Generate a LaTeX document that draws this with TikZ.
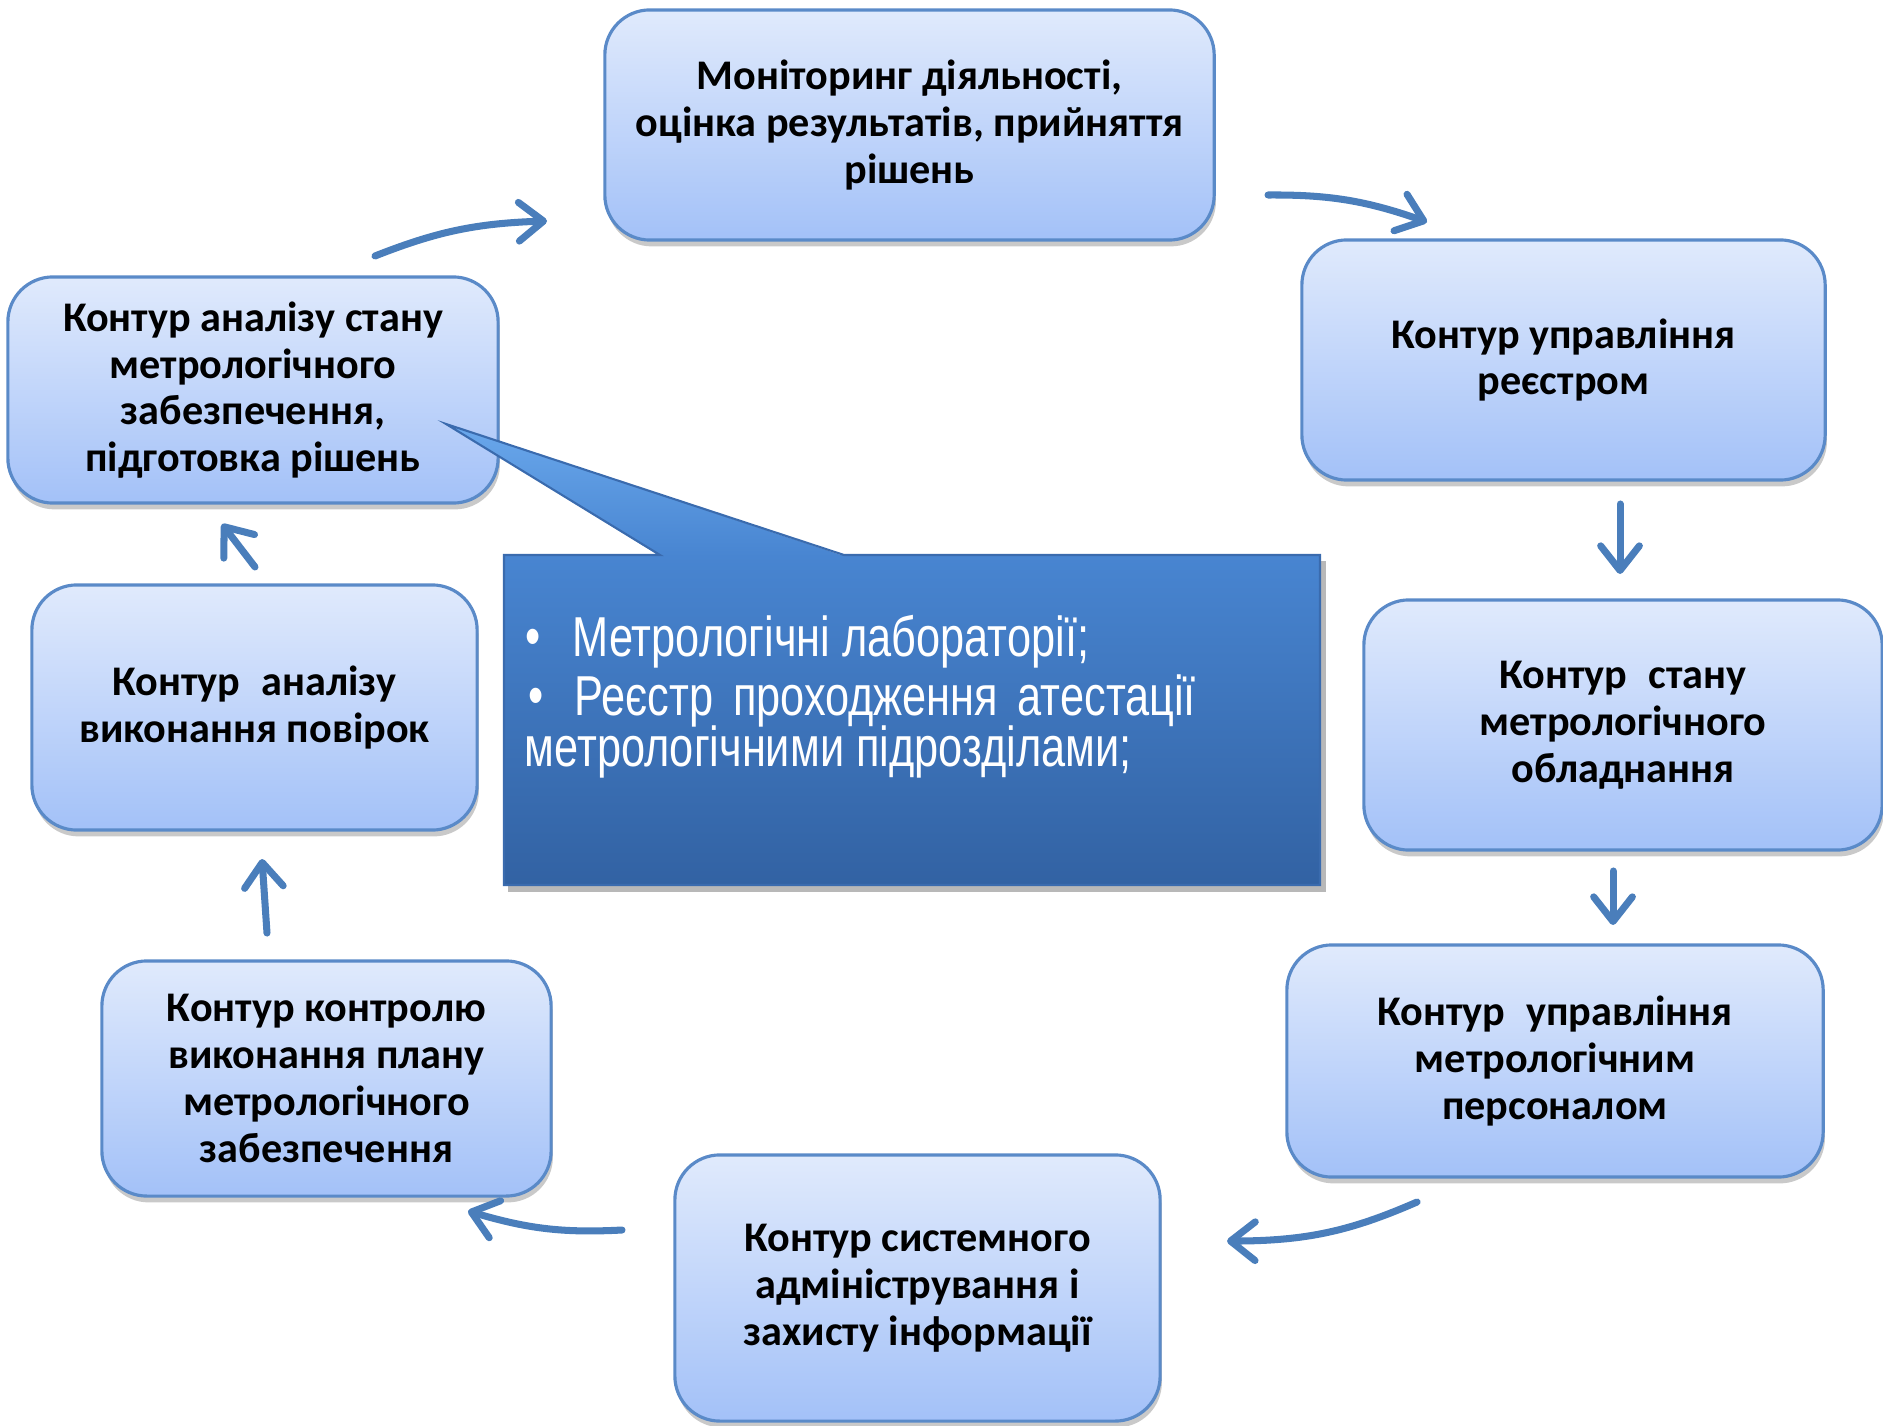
\documentclass[tikz,border=0pt]{standalone}
\usepackage{fontspec}
\setmainfont{Carlito}
\newfontfamily\narrowfont[FakeStretch=0.77]{Liberation Sans}
\usetikzlibrary{arrows.meta,shadows,bending}
\definecolor{boxtop}{HTML}{E0EAFC}
\definecolor{boxbot}{HTML}{A3C1F8}
\definecolor{boxline}{HTML}{5A8AC8}
\definecolor{arrowc}{HTML}{4A7EBB}
\definecolor{calltip}{HTML}{6AA8EC}
\definecolor{calltop}{HTML}{4885D1}
\definecolor{callbot}{HTML}{3262A3}
\definecolor{callline}{HTML}{3A6BAE}
\tikzset{
  cbox/.style={draw=boxline, line width=0.9pt, rounded corners=0.45cm,
    top color=boxtop, bottom color=boxbot, align=center, inner sep=0pt,
    font=\bfseries\fontsize{12}{13.3}\selectfont,
    drop shadow={shadow xshift=0.5pt, shadow yshift=-1.8pt, opacity=0.3, fill=black!70}},
  flow/.style={draw=arrowc, line width=2pt, line cap=round,
    -{Straight Barb[length=7pt,width=11pt,line cap=round,line join=round]}},
  ctext/.style={anchor=west, text=white, inner sep=0pt,
    font=\narrowfont\fontsize{16}{18}\selectfont}
}
\begin{document}
\begin{tikzpicture}[x=0.01cm,y=-0.01cm]
\useasboundingbox (0,0) rectangle (1883,1425);

% boxes
\node[cbox, minimum width=6.09cm, minimum height=2.30cm] (mon) at (909.5,125)
  {Моніторинг діяльності,\\оцінка результатів, прийняття\\рішень};
\node[cbox, minimum width=5.23cm, minimum height=2.40cm] (reestr) at (1563.5,360)
  {Контур управління\\реєстром};
\node[cbox, minimum width=5.18cm, minimum height=2.50cm] (obl) at (1623,725)
  {Контур\enspace стану\\метрологічного\\обладнання};
\node[cbox, minimum width=5.36cm, minimum height=2.32cm] (pers) at (1555,1061)
  {Контур\enspace управління\\метрологічним\\персоналом};
\node[cbox, minimum width=4.85cm, minimum height=2.66cm] (sys) at (917.5,1288)
  {Контур системного\\адміністрування і\\захисту інформації};
\node[cbox, minimum width=4.49cm, minimum height=2.35cm] (plan) at (326.5,1078.5)
  {Контур контролю\\виконання плану\\метрологічного\\забезпечення};
\node[cbox, minimum width=4.45cm, minimum height=2.45cm] (pov) at (254.5,707.5)
  {Контур\enspace аналізу\\виконання повірок};
\node[cbox, minimum width=4.90cm, minimum height=2.26cm] (anal) at (253,390)
  {Контур аналізу стану\\метрологічного\\забезпечення,\\підготовка рішень};

% callout (drawn over the boxes)
\fill[black,opacity=0.28] (508,561) -- (1326,561) -- (1326,892) -- (508,892) -- cycle;
\path[top color=calltop, bottom color=callbot]
  (504,555) rectangle (1320,885);
\path[top color=calltip, bottom color=calltop]
  (660,556) -- (446,424) -- (844,556) -- cycle;
\draw[callline, line width=0.6pt, line join=miter]
  (504,555) -- (660,555) -- (446,424) -- (844,555) -- (1320,555)
  -- (1320,885) -- (504,885) -- cycle;
\node[ctext] (b1) at (525,642) {•};
\node[ctext] (t1) at (572,642) {Метрологічні лабораторії;};
\node[ctext] (b2) at (528,701) {•};
\node[ctext] (t2) at (574,701) {\makebox[6.21cm][s]{Реєстр проходження атестації}};
\node[ctext] (t3) at (524,752) {метрологічними підрозділами;};

% arrow end points
\coordinate (a1s) at (375,256);  \coordinate (a1e) at (547,221);
\coordinate (a2s) at (1268,195); \coordinate (a2e) at (1427,222);
\coordinate (a3s) at (1620,504); \coordinate (a3e) at (1620,574);
\coordinate (a4s) at (1613,871); \coordinate (a4e) at (1613,925);
\coordinate (a5s) at (1417,1202); \coordinate (a5e) at (1227,1241);
\coordinate (a6s) at (622,1230); \coordinate (a6e) at (468,1211);
\coordinate (a7s) at (267,933);  \coordinate (a7e) at (262,859);
\coordinate (a8s) at (255,567);  \coordinate (a8e) at (222,524);

\draw[flow] (a1s) to[bend left=10] (a1e);
\draw[flow] (a2s) to[bend left=10] (a2e);
\draw[flow] (a3s) -- (a3e);
\draw[flow] (a4s) -- (a4e);
\draw[flow] (a5s) to[bend left=12] (a5e);
\draw[flow] (a6s) to[bend left=10] (a6e);
\draw[flow] (a7s) -- (a7e);
\draw[flow] (a8s) -- (a8e);
\end{tikzpicture}
\end{document}
